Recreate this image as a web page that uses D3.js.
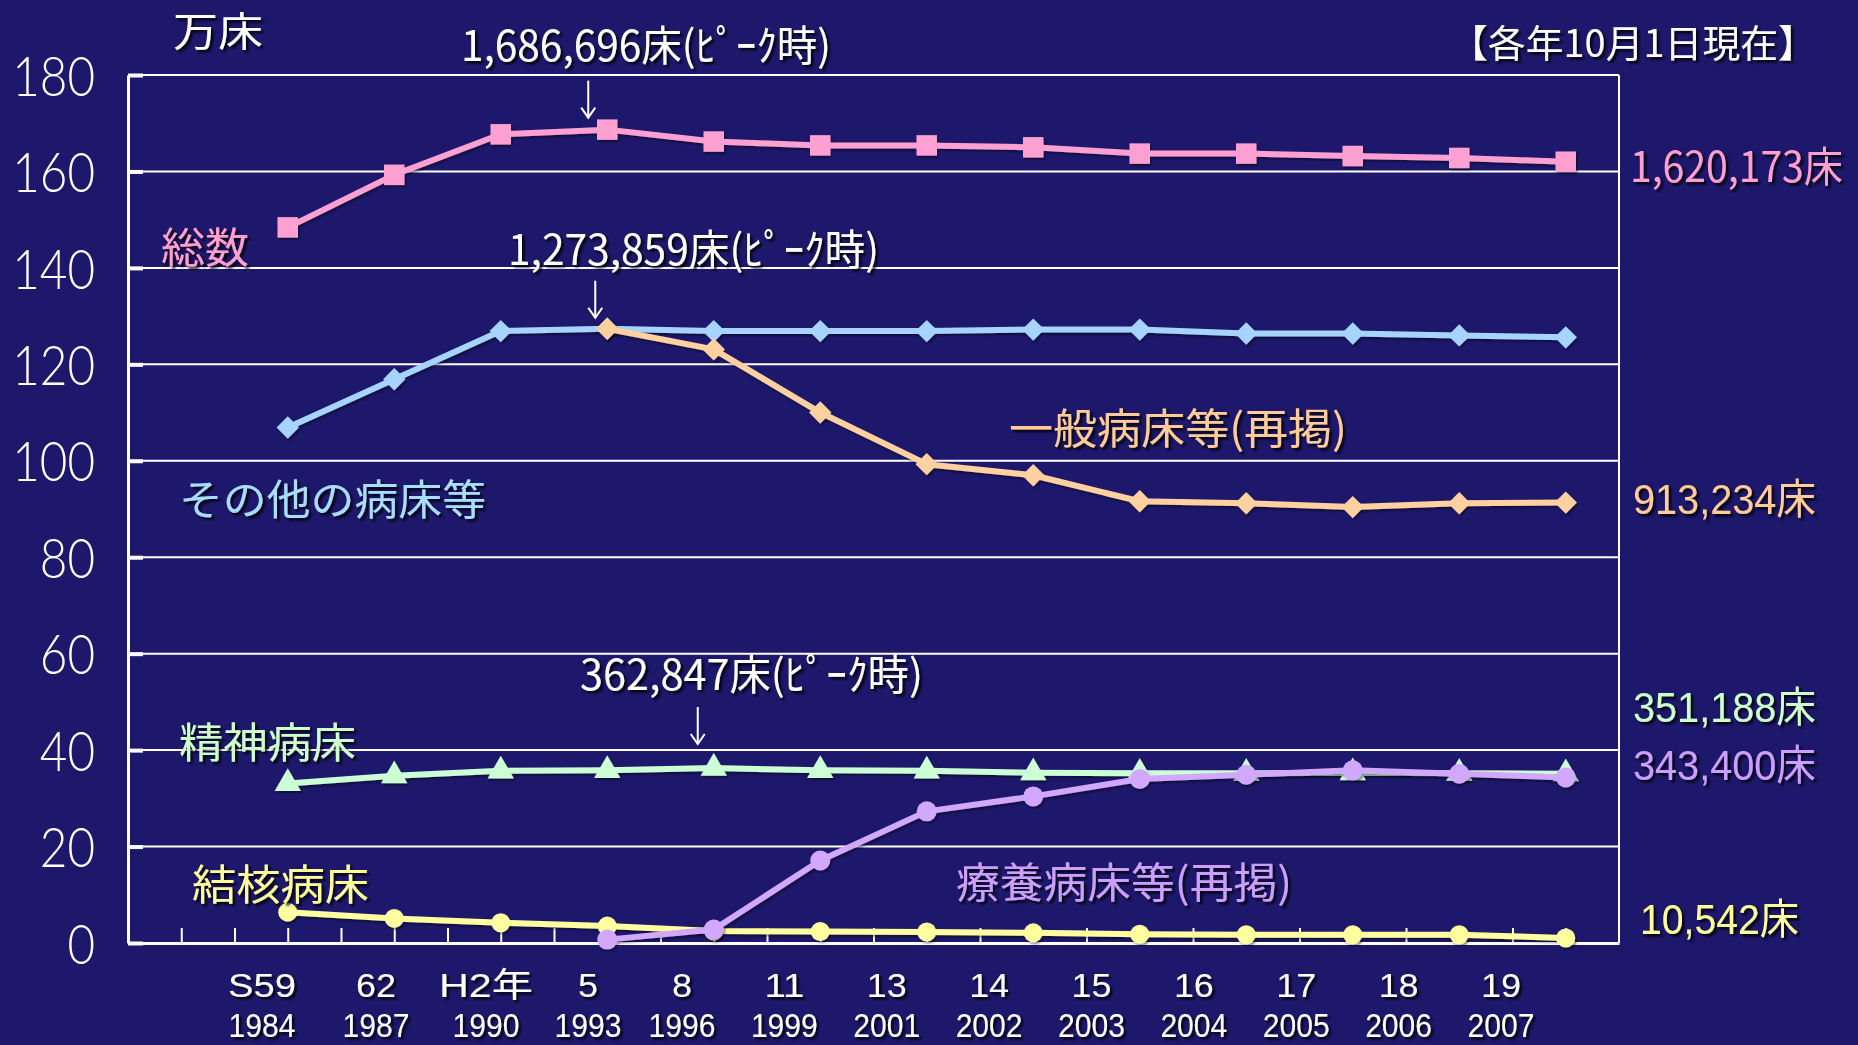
<!DOCTYPE html>
<html>
<head>
<meta charset="utf-8">
<script src="https://cdnjs.cloudflare.com/ajax/libs/d3/7.8.5/d3.min.js"></script>
<style>
  html, body { margin: 0; padding: 0; background: #1d186b; }
  svg { display: block; }
</style>
</head>
<body>
<svg id="chart" width="1858" height="1045"></svg>
<script>
// Hospital beds by type (unit: 10,000 beds), as of October 1 of each year
const eraLabels  = ["S59", "62", "H2年", "5", "8", "11", "13", "14", "15", "16", "17", "18", "19"];
const yearLabels = ["1984", "1987", "1990", "1993", "1996", "1999", "2001", "2002", "2003", "2004", "2005", "2006", "2007"];

const totalBeds     = [148.4, 159.3, 167.7, 168.6696, 166.2, 165.4, 165.4, 165.0, 163.7, 163.7, 163.2, 162.8, 162.0173];
const otherBeds     = [106.9, 116.9, 126.9, 127.4, 126.9, 126.9, 126.9, 127.2, 127.2, 126.4, 126.4, 126.0, 125.6];
const generalBeds   = [null, null, null, 127.3859, 123.1, 110.0, 99.3, 97.0, 91.6, 91.2, 90.4, 91.2, 91.3234];
const psychBeds     = [33.1, 34.7, 35.7, 35.8, 36.2847, 35.8, 35.7, 35.3, 35.2, 35.2, 35.3, 35.2, 35.1188];
const tbBeds        = [6.4, 5.1, 4.2, 3.5, 2.5, 2.4, 2.3, 2.1, 1.8, 1.7, 1.7, 1.7, 1.0542];
const longTermBeds  = [null, null, null, 0.7, 2.8, 17.1, 27.3, 30.4, 34.0, 34.9, 35.8, 35.1, 34.34];

const yTicks = [0, 20, 40, 60, 80, 100, 120, 140, 160, 180];
const seriesNames = ["総数", "その他の病床等", "一般病床等(再掲)", "精神病床", "結核病床", "療養病床等(再掲)"];

const JP  = "'Noto Sans CJK JP', 'Noto Sans CJK SC', sans-serif";
const LAT = "'Liberation Sans', 'Noto Sans CJK JP', sans-serif";
const NUM = "Lato, 'Open Sans', 'Noto Sans', sans-serif";

const svg = d3.select("#chart");
const defs = svg.append("defs");

defs.append("filter").attr("id", "txtShadow")
  .attr("x", "-10%").attr("y", "-20%").attr("width", "130%").attr("height", "150%")
  .append("feDropShadow")
  .attr("dx", 2.5).attr("dy", 2.5).attr("stdDeviation", 0.8)
  .attr("flood-color", "#000").attr("flood-opacity", 0.85);

defs.append("filter").attr("id", "lineShadow")
  .attr("x", "-5%").attr("y", "-20%").attr("width", "115%").attr("height", "160%")
  .append("feDropShadow")
  .attr("dx", 1.5).attr("dy", 2).attr("stdDeviation", 1)
  .attr("flood-color", "#000").attr("flood-opacity", 0.45);

// Plot frame
const plotLeft = 128, plotRight = 1619, plotTop = 75, plotBottom = 943;

// Half-band positions: 14 bands across the plot, points sit at band centres from band 1 on
const xPos = d3.scaleLinear().domain([0, 28]).range([plotLeft, plotRight]);
const xOf = i => xPos(3 + 2 * i);
const y = d3.scaleLinear().domain([0, 180]).range([plotBottom, plotTop]);

// Category label positions along the bottom (text boxes sit slightly left of the points)
const xLabel = d3.scaleLinear().domain([0, 1, 2, 3, 4, 12]).range([262, 376, 486, 588, 682, 1501]);

// Horizontal gridlines
svg.append("g")
  .selectAll("line")
  .data(yTicks.filter(d => d > 0))
  .join("line")
  .attr("x1", plotLeft).attr("x2", plotRight)
  .attr("y1", d => y(d)).attr("y2", d => y(d))
  .attr("stroke", "#ffffff").attr("stroke-width", 2);

// Right frame edge
svg.append("line")
  .attr("x1", plotRight).attr("x2", plotRight)
  .attr("y1", y(180)).attr("y2", y(0))
  .attr("stroke", "#ffffff").attr("stroke-width", 2);

// Bottom axis with upward ticks
const xAxisG = svg.append("g")
  .attr("transform", `translate(0,${plotBottom})`)
  .call(d3.axisBottom(xPos).tickValues(d3.range(1, 28)).tickSizeInner(-15).tickSizeOuter(0).tickFormat(""));
xAxisG.select(".domain").attr("stroke", "#ffffff").attr("stroke-width", 3);
xAxisG.selectAll(".tick line").attr("stroke", "#ffffff").attr("stroke-width", 2);

// Left axis with inward ticks
const yAxisG = svg.append("g")
  .attr("transform", `translate(${plotLeft},0)`)
  .call(d3.axisLeft(y).tickValues(yTicks).tickSizeInner(-15).tickSizeOuter(0).tickPadding(33));
yAxisG.select(".domain").attr("stroke", "#ffffff").attr("stroke-width", 3);
yAxisG.selectAll(".tick line").attr("stroke", "#ffffff").attr("stroke-width", 4);
yAxisG.selectAll(".tick text")
  .attr("fill", "#ffffff")
  .attr("font-family", NUM)
  .attr("font-weight", 300)
  .attr("font-size", 56)
  .attr("x", -33 / 0.85)
  .attr("dy", "0.36em")
  .attr("transform", "scale(0.85,1)");

// Series
const series = [
  { values: totalBeds,    color: "#ffa0d2", marker: "square" },
  { values: otherBeds,    color: "#a6d4ff", marker: "diamond" },
  { values: psychBeds,    color: "#ccffd6", marker: "triangle" },
  { values: tbBeds,       color: "#ffffa0", marker: "circle", r: 9.5 },
  { values: generalBeds,  color: "#ffd0a0", marker: "diamond" },
  { values: longTermBeds, color: "#d2a8ff", marker: "circle", r: 10 }
];

const line = d3.line()
  .defined(d => d.v != null)
  .x(d => xOf(d.i))
  .y(d => y(d.v));

series.forEach(s => {
  const pts = s.values.map((v, i) => ({ i, v }));
  const g = svg.append("g").attr("filter", "url(#lineShadow)");
  g.append("path")
    .datum(pts)
    .attr("d", line)
    .attr("fill", "none")
    .attr("stroke", s.color)
    .attr("stroke-width", 6)
    .attr("stroke-linejoin", "round");

  const valid = pts.filter(d => d.v != null);
  if (s.marker === "circle") {
    g.selectAll("circle").data(valid).join("circle")
      .attr("cx", d => xOf(d.i)).attr("cy", d => y(d.v))
      .attr("r", s.r).attr("fill", s.color);
  } else {
    let sym, rot = 0;
    if (s.marker === "square") sym = d3.symbol(d3.symbolSquare, 420);
    if (s.marker === "diamond") { sym = d3.symbol(d3.symbolSquare, 250); rot = 45; }
    if (s.marker === "triangle") sym = d3.symbol(d3.symbolTriangle, 300);
    g.selectAll("path.mk").data(valid).join("path")
      .attr("class", "mk")
      .attr("d", sym)
      .attr("transform", d => `translate(${xOf(d.i)},${y(d.v)}) rotate(${rot})`)
      .attr("fill", s.color);
  }
});

// Text helper
function label(txt, x, yb, size, fill, len, family, anchor) {
  const t = svg.append("text")
    .attr("x", x).attr("y", yb)
    .attr("font-size", size)
    .attr("font-family", family || JP)
    .attr("fill", fill)
    .attr("text-anchor", anchor || "start")
    .attr("filter", "url(#txtShadow)")
    .text(txt);
  if (len) t.attr("textLength", len).attr("lengthAdjust", "spacingAndGlyphs");
  return t;
}

// Unit and date note
label("万床", 173, 45.5, 40, "#ffffff", 90);
label("【各年10月1日現在】", 1450, 56.5, 38, "#ffffff", 366);

// Category labels: era year above, western year below
const charW = c => (/[0-9]/.test(c) ? 20 : /[A-Za-z]/.test(c) ? 28 : 46);
eraLabels.forEach((t, i) => {
  const w = Array.from(t).reduce((a, c) => a + charW(c), 0);
  label(t, xLabel(i) - w / 2, 997, 34, "#ffffff", w, LAT);
});
yearLabels.forEach((t, i) => {
  label(t, xLabel(i) - 33.5, 1037, 33, "#ffffff", 67, LAT);
});

// Series names
label(seriesNames[0], 161, 262.5, 42, "#ff9fcf", 88);
label(seriesNames[1], 179, 514.5, 42, "#a8ddff", 307);
label(seriesNames[2], 1009, 444, 42, "#ffcc99", 338);
label(seriesNames[3], 179, 757.5, 42, "#ccffcc", 177);
label(seriesNames[4], 192, 899.5, 42, "#ffff99", 177);
label(seriesNames[5], 956, 897.5, 42, "#cc9fff", 336);

// Bed counts
const fmtBeds = v => d3.format(",")(Math.round(v * 10000)) + "床";

// Peak annotations with arrows
const peaks = [
  { values: totalBeds,   tx: 461, ty: 61,    len: 370, dx: -19, gap: 12 },
  { values: generalBeds, tx: 508, ty: 265,   len: 371, dx: -12, gap: 11 },
  { values: psychBeds,   tx: 580, ty: 689.5, len: 343, dx: -16, gap: 24 }
];
peaks.forEach(p => {
  const vals = p.values.map(v => (v == null ? -Infinity : v));
  const iMax = d3.maxIndex(vals);
  const vMax = vals[iMax];
  label(fmtBeds(vMax) + "(ﾋﾟｰｸ時)", p.tx, p.ty, 42, "#ffffff", p.len);
  const ax = xOf(iMax) + p.dx;
  const tipY = y(vMax) - p.gap;
  const startY = tipY - 37;
  const a = svg.append("g").attr("stroke", "#ffffff").attr("stroke-width", 2).attr("fill", "none");
  a.append("line").attr("x1", ax).attr("x2", ax).attr("y1", startY).attr("y2", tipY);
  a.append("path").attr("d", `M${ax - 7},${tipY - 10} L${ax},${tipY} L${ax + 7},${tipY - 10}`);
});

// End-of-period values on the right
const last = arr => arr[arr.length - 1];
label(fmtBeds(last(totalBeds)),    1630, 182,   42, "#ff9fcf", 213, JP);
label(fmtBeds(last(generalBeds)),  1633, 514,   42, "#ffcc99", 183, LAT);
label(fmtBeds(last(psychBeds)),    1633, 721.5, 42, "#ccffcc", 183, LAT);
label(fmtBeds(last(longTermBeds)), 1633, 779.5, 42, "#cc9fff", 183, LAT);
label(fmtBeds(last(tbBeds)),       1640, 934,   42, "#ffff99", 159, LAT);
</script>
</body>
</html>
